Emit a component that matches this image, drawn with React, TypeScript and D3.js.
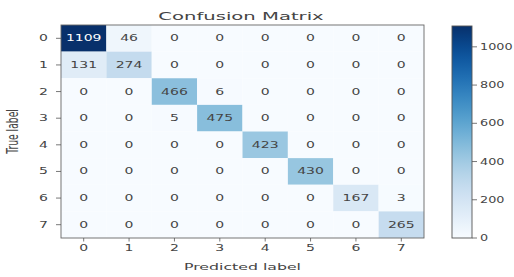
import React from "react";
import * as d3 from "d3";

const classes = ["0", "1", "2", "3", "4", "5", "6", "7"];
const matrix: number[][] = [
  [1109, 46, 0, 0, 0, 0, 0, 0],
  [131, 274, 0, 0, 0, 0, 0, 0],
  [0, 0, 466, 6, 0, 0, 0, 0],
  [0, 0, 5, 475, 0, 0, 0, 0],
  [0, 0, 0, 0, 423, 0, 0, 0],
  [0, 0, 0, 0, 0, 430, 0, 0],
  [0, 0, 0, 0, 0, 0, 167, 3],
  [0, 0, 0, 0, 0, 0, 0, 265],
];
const colorbarTicks = [0, 200, 400, 600, 800, 1000];
const title = "Confusion Matrix";
const xLabel = "Predicted label";
const yLabel = "True label";

const W = 514;
const H = 277;
const SX = 1.75; // horizontal stretch of the reference
const FONT = "DejaVu Sans, sans-serif";

const M = { left: 61, right: 424, top: 25, bottom: 238 };
const CB = { left: 452, right: 472, top: 26, bottom: 238 };

function SText({ x, y, size, anchor = "middle", fill = "#444", rotate = 0, sx = SX, children }: any) {
  const tf = rotate
    ? `translate(${x},${y}) scale(${sx},1) rotate(${rotate})`
    : `translate(${x},${y}) scale(${sx},1)`;
  return (
    <text transform={tf} fontSize={size} textAnchor={anchor} fill={fill} fontFamily={FONT}>
      {children}
    </text>
  );
}

export default function App() {
  const vmax = d3.max(matrix.flat()) as number;
  const xs = d3.scaleBand<string>().domain(classes).range([M.left, M.right]);
  const ys = d3.scaleBand<string>().domain(classes).range([M.top, M.bottom]);
  const color = (v: number) => d3.interpolateBlues(v / vmax);
  const cbScale = d3.scaleLinear().domain([0, vmax]).range([CB.bottom, CB.top]);
  const thresh = vmax / 2;
  const gradId = "cbgrad";
  const stops = d3.range(0, 1.0001, 0.05);

  return (
    <svg width={W} height={H} style={{ position: "absolute", left: 0, top: 0, background: "#fff" }}>
      <defs>
        <linearGradient id={gradId} x1="0" y1="1" x2="0" y2="0">
          {stops.map((t) => (
            <stop key={t} offset={t} stopColor={d3.interpolateBlues(t)} />
          ))}
        </linearGradient>
      </defs>
      <rect width={W} height={H} fill="#fff" />
      {/* cells */}
      {matrix.map((row, i) =>
        row.map((v, j) => (
          <rect
            key={`c${i}-${j}`}
            x={xs(classes[j])}
            y={ys(classes[i])}
            width={xs.bandwidth()}
            height={ys.bandwidth()}
            fill={color(v)}
          />
        ))
      )}
      {/* cell texts */}
      {matrix.map((row, i) =>
        row.map((v, j) => (
          <SText
            key={`t${i}-${j}`}
            x={(xs(classes[j]) as number) + xs.bandwidth() / 2}
            y={(ys(classes[i]) as number) + ys.bandwidth() / 2 + 3}
            size={8}
            fill={v > thresh ? "#fff" : "#454545"}
          >
            {v}
          </SText>
        ))
      )}
      {/* frame */}
      <rect
        x={M.left}
        y={M.top}
        width={M.right - M.left}
        height={M.bottom - M.top}
        fill="none"
        stroke="#666"
        strokeWidth={0.9}
      />
      {/* y ticks */}
      {classes.map((c) => {
        const y = (ys(c) as number) + ys.bandwidth() / 2;
        return (
          <g key={`yt${c}`}>
            <line x1={M.left - 5} x2={M.left} y1={y} y2={y} stroke="#555" strokeWidth={0.8} />
            <SText x={48} y={y + 3} size={8} anchor="end">
              {c}
            </SText>
          </g>
        );
      })}
      {/* x ticks */}
      {classes.map((c) => {
        const x = (xs(c) as number) + xs.bandwidth() / 2;
        return (
          <g key={`xt${c}`}>
            <line x1={x} x2={x} y1={M.bottom} y2={M.bottom + 3.5} stroke="#555" strokeWidth={0.8} />
            <SText x={x} y={251} size={8}>
              {c}
            </SText>
          </g>
        );
      })}
      {/* title and axis labels */}
      <SText x={241} y={20} size={11.2}>
        {title}
      </SText>
      <SText x={(M.left + M.right) / 2} y={270} size={9}>
        {xLabel}
      </SText>
      <SText x={18} y={(M.top + M.bottom) / 2} size={9.2} rotate={-90}>
        {yLabel}
      </SText>
      {/* colorbar */}
      <rect
        x={CB.left}
        y={CB.top}
        width={CB.right - CB.left}
        height={CB.bottom - CB.top}
        fill={`url(#${gradId})`}
        stroke="#555"
        strokeWidth={0.9}
      />
      {colorbarTicks.map((t) => {
        const y = cbScale(t);
        return (
          <g key={`cb${t}`}>
            <line x1={CB.right} x2={CB.right + 5} y1={y} y2={y} stroke="#555" strokeWidth={0.8} />
            <SText x={480} y={y + 3} size={8} anchor="start" sx={1.6}>
              {t}
            </SText>
          </g>
        );
      })}
    </svg>
  );
}
